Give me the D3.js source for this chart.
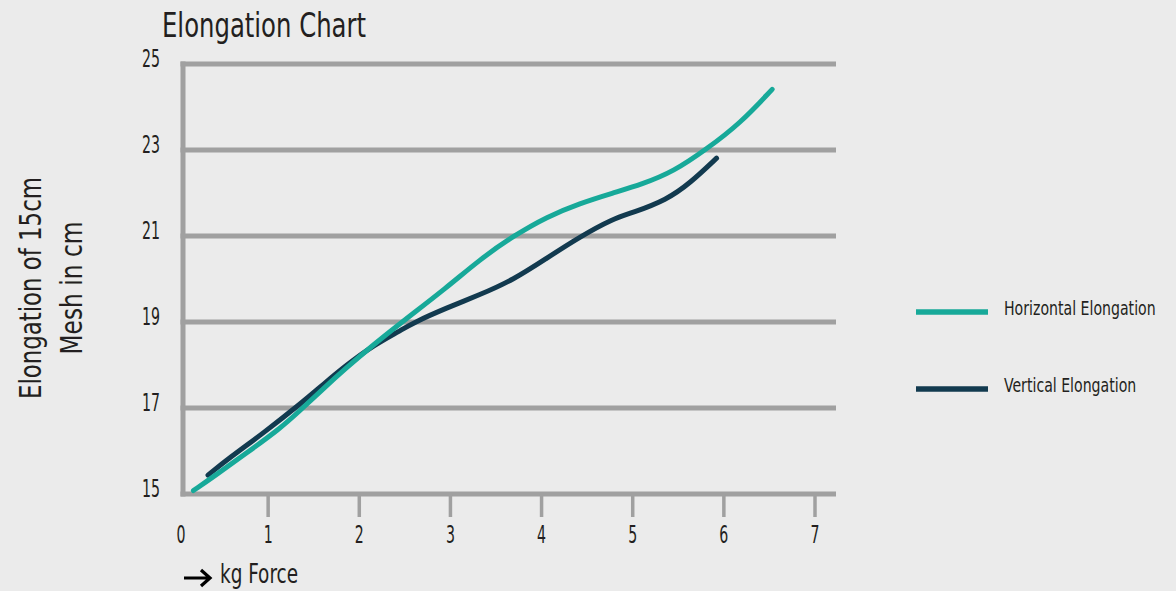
<!DOCTYPE html>
<html>
<head>
<meta charset="utf-8">
<script src="https://cdn.jsdelivr.net/npm/d3@7"></script>
<style>
  html, body { margin: 0; padding: 0; background: #ebebeb; }
  svg { display: block; }
  text { font-family: 'Liberation Sans Narrow', 'DejaVu Sans Condensed', 'Roboto', sans-serif; fill: #231f20; }
</style>
</head>
<body>
<svg id="chart" width="1176" height="591"></svg>
<script>
// ---- data ----
const xTicks = [0, 1, 2, 3, 4, 5, 6, 7];
const yTicks = [15, 17, 19, 21, 23, 25];
const seriesNames = ["Horizontal Elongation", "Vertical Elongation"];
const seriesColors = ["#17a999", "#123a4f"];
const horizontalX = [0.18, 0.40, 0.76, 1.13, 1.35, 1.60, 1.86, 2.15, 2.45, 2.96, 3.32, 3.69, 4.06, 4.42, 4.78, 5.10, 5.45, 5.81, 6.18, 6.53];
const horizontalY = [15.08, 15.40, 15.95, 16.52, 16.94, 17.44, 17.94, 18.46, 18.97, 19.80, 20.45, 21.00, 21.45, 21.76, 22.00, 22.20, 22.50, 23.02, 23.62, 24.41];
const verticalX = [0.34, 0.58, 0.95, 1.38, 1.60, 1.86, 2.15, 2.45, 2.59, 2.96, 3.32, 3.69, 4.06, 4.42, 4.78, 5.01, 5.37, 5.63, 5.92];
const verticalY = [15.44, 15.85, 16.42, 17.14, 17.54, 18.00, 18.45, 18.80, 18.98, 19.33, 19.63, 19.98, 20.49, 20.98, 21.40, 21.55, 21.84, 22.23, 22.81];

const svg = d3.select("#chart");
const x = d3.scaleLinear().domain([0, 7]).range([177, 815]);
const y = d3.scaleLinear().domain([15, 25]).range([494, 64]);
const gridColor = "#a0a0a0";
const plotLeft = 183, plotRight = 836;

// title
svg.append("text").attr("x", 162).attr("y", 37)
  .attr("font-size", 34).attr("textLength", 204).attr("lengthAdjust", "spacingAndGlyphs")
  .text("Elongation Chart");

// horizontal grid lines
svg.append("g").selectAll("line").data(yTicks).join("line")
  .attr("x1", plotLeft - 2.5).attr("x2", plotRight)
  .attr("y1", d => y(d)).attr("y2", d => y(d))
  .attr("stroke", gridColor).attr("stroke-width", 5);

// vertical axis line
svg.append("line").attr("x1", plotLeft).attr("x2", plotLeft)
  .attr("y1", y(25) - 2.5).attr("y2", y(15) + 2.5)
  .attr("stroke", gridColor).attr("stroke-width", 5);

// y tick labels
svg.append("g").selectAll("text").data(yTicks).join("text")
  .attr("x", 160).attr("y", d => y(d) + 3)
  .attr("text-anchor", "end").attr("font-size", 25)
  .attr("textLength", 18).attr("lengthAdjust", "spacingAndGlyphs")
  .text(d => d);

// x ticks
svg.append("g").selectAll("line").data(xTicks.filter(d => d > 0)).join("line")
  .attr("x1", d => x(d)).attr("x2", d => x(d))
  .attr("y1", y(15)).attr("y2", 517)
  .attr("stroke", gridColor).attr("stroke-width", 3.5);

svg.append("g").selectAll("text").data(xTicks).join("text")
  .attr("x", d => d === 0 ? x(d) + 4 : x(d)).attr("y", 543)
  .attr("text-anchor", "middle").attr("font-size", 25)
  .attr("textLength", 9).attr("lengthAdjust", "spacingAndGlyphs")
  .text(d => d);

// lines
const lineGen = d3.line().x(d => x(d[0])).y(d => y(d[1])).curve(d3.curveBasis);
const seriesData = [
  d3.zip(horizontalX, horizontalY),
  d3.zip(verticalX, verticalY)
];
// draw vertical first then horizontal on top
[1, 0].forEach(i => {
  svg.append("path").datum(seriesData[i])
    .attr("d", lineGen).attr("fill", "none")
    .attr("stroke", seriesColors[i]).attr("stroke-width", 5)
    .attr("stroke-linecap", "round").attr("stroke-linejoin", "round");
});

// y axis title
const yTitle = svg.append("g").attr("transform", "translate(0,288) rotate(-90)");
yTitle.append("text").attr("x", 0).attr("y", 41).attr("text-anchor", "middle")
  .attr("font-size", 30).attr("textLength", 222).attr("lengthAdjust", "spacingAndGlyphs")
  .text("Elongation of 15cm");
yTitle.append("text").attr("x", 0).attr("y", 82).attr("text-anchor", "middle")
  .attr("font-size", 30).attr("textLength", 133).attr("lengthAdjust", "spacingAndGlyphs")
  .text("Mesh in cm");

// x axis title with arrow
svg.append("path").attr("d", "M184,578 L209,578 M201,570 L210,578 L201,586")
  .attr("fill", "none").attr("stroke", "#000").attr("stroke-width", 3.2);
svg.append("text").attr("x", 220).attr("y", 583).attr("font-size", 26)
  .attr("textLength", 78).attr("lengthAdjust", "spacingAndGlyphs")
  .text("kg Force");

// legend
const legendY = [312, 389];
seriesNames.forEach((name, i) => {
  svg.append("line").attr("x1", 916).attr("x2", 988)
    .attr("y1", legendY[i]).attr("y2", legendY[i])
    .attr("stroke", seriesColors[i]).attr("stroke-width", 5.5);
  const g = svg.append("g").attr("transform", `translate(1004,${legendY[i] + 3}) scale(0.785,1)`);
  g.append("text").attr("x", 0).attr("y", 0)
    .attr("font-size", 20)
    .text(name);
});
</script>
</body>
</html>
